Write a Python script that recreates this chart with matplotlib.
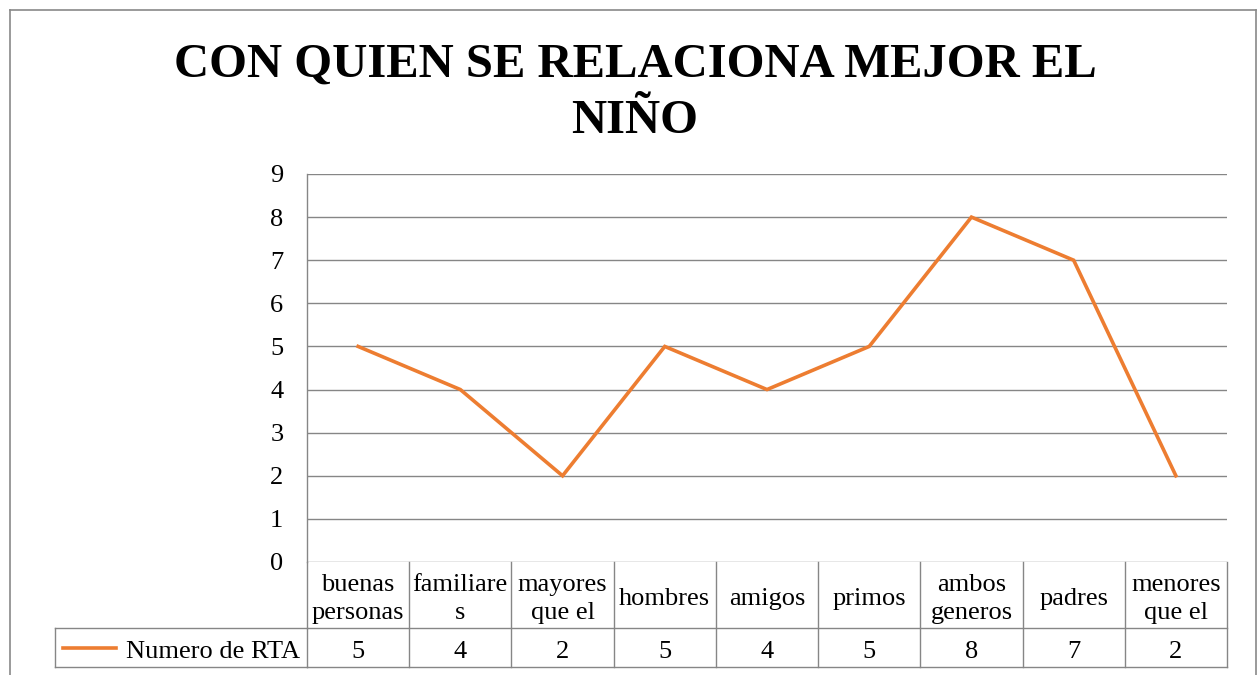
import matplotlib.pyplot as plt
import matplotlib.transforms as mtransforms
from matplotlib.lines import Line2D

categories = ["buenas\npersonas", "familiare\ns", "mayores\nque el", "hombres",
              "amigos", "primos", "ambos\ngeneros", "padres", "menores\nque el"]
values = [5, 4, 2, 5, 4, 5, 8, 7, 2]
series_name = "Numero de RTA"
title_lines = ["CON QUIEN SE RELACIONA MEJOR EL", "NIÑO"]

W, H = 1259, 675
serif = ["Liberation Serif", "DejaVu Serif"]
grid_c = "#868686"
line_c = "#ED7D31"
fs = 19

fig = plt.figure(figsize=(W / 100, H / 100), dpi=100)
fig.patch.set_facecolor("white")


def fx(px):
    return px / W


def fy(py):
    return 1 - py / H


# outer chart border
for xs, ys in [([10, 10], [10, 680]), ([10, 1256], [10, 10]), ([1256, 1256], [10, 680])]:
    fig.add_artist(Line2D([fx(x) for x in xs], [fy(y) for y in ys], color="#898989", lw=1.2))

for line, base in zip(title_lines, [77, 133]):
    fig.text(fx(635), fy(base), line, ha="center", va="baseline", fontsize=35,
             fontweight="bold", family=serif)

left, right, top, bottom = 307, 1227, 174, 562
ax = fig.add_axes([fx(left), fy(bottom), fx(right - left), (bottom - top) / H])
n = len(categories)
x = list(range(n))
ax.plot(x, values, color=line_c, lw=2.6, solid_joinstyle="miter")
ax.set_xlim(-0.5, n - 0.5)
ax.set_ylim(0, 9)
ax.set_yticks(range(10))
ax.yaxis.grid(True, color=grid_c, lw=1)
ax.set_axisbelow(True)
ax.tick_params(axis="y", length=0, pad=17, labelsize=fs)
ax.tick_params(axis="x", length=0, labelbottom=False)
for lab in ax.get_yticklabels():
    lab.set_family(serif)
for s in ["top", "right", "bottom"]:
    ax.spines[s].set_visible(False)
ax.spines["left"].set_color(grid_c)
ax.spines["left"].set_linewidth(1)

# data table below the axis
ph = bottom - top


def ay(py):
    return -(py - bottom) / ph


r1 = ay(628)
r2 = ay(667)
tr = mtransforms.blended_transform_factory(ax.transData, ax.transAxes)
kw = dict(color=grid_c, lw=1, clip_on=False)
ax.plot([-0.5, n - 0.5], [r1, r1], transform=tr, **kw)
ax.plot([-0.5, n - 0.5], [r2, r2], transform=tr, **kw)
for i in range(n + 1):
    ax.plot([i - 0.5, i - 0.5], [0, r2], transform=tr, **kw)
for i, (c, v) in enumerate(zip(categories, values)):
    ax.text(i, ay(599), c, transform=tr, ha="center", va="center",
            fontsize=fs, family=serif, linespacing=1.38)
    ax.text(i, ay(658), str(v), transform=tr, ha="center", va="baseline",
            fontsize=fs, family=serif)

# legend cell of table
fig.add_artist(Line2D([fx(55), fx(left)], [fy(628), fy(628)], color=grid_c, lw=1))
fig.add_artist(Line2D([fx(55), fx(left)], [fy(667), fy(667)], color=grid_c, lw=1))
fig.add_artist(Line2D([fx(55), fx(55)], [fy(628), fy(667)], color=grid_c, lw=1))
fig.add_artist(Line2D([fx(63), fx(116)], [fy(648), fy(648)], color=line_c, lw=2.6))
fig.text(fx(300), fy(658), series_name, ha="right", va="baseline", fontsize=fs, family=serif)

fig.savefig("out.png", dpi=100)
